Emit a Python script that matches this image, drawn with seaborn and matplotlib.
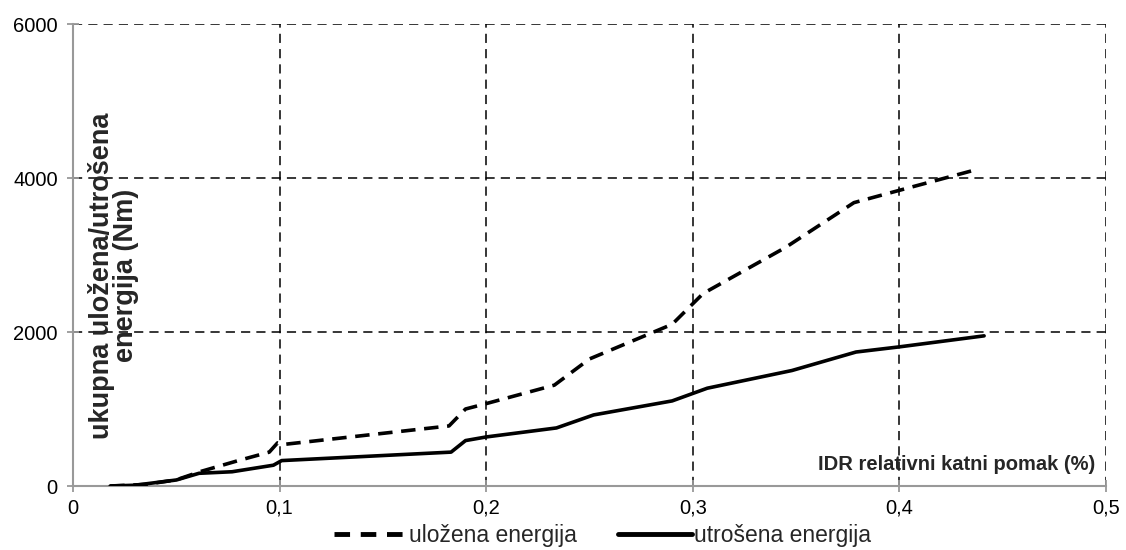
import matplotlib
matplotlib.use("Agg")
import matplotlib.pyplot as plt
import seaborn as sns
import pandas as pd
from matplotlib.ticker import FuncFormatter, MultipleLocator
from matplotlib.lines import Line2D

sns.set_theme(style="white")
plt.rcParams['font.family'] = ['Liberation Sans', 'DejaVu Sans']

idr_ulozena = [0.018, 0.035, 0.05, 0.062, 0.08, 0.095, 0.099, 0.102, 0.182, 0.19, 0.2, 0.233, 0.25, 0.29, 0.305, 0.345, 0.378, 0.4, 0.436]
e_ulozena = [0, 20, 80, 190, 330, 440, 560, 540, 780, 1000, 1070, 1310, 1650, 2100, 2500, 3100, 3680, 3840, 4100]
idr_utrosena = [0.018, 0.03, 0.05, 0.061, 0.077, 0.097, 0.101, 0.183, 0.19, 0.2, 0.234, 0.252, 0.29, 0.307, 0.348, 0.379, 0.4, 0.441]
e_utrosena = [0, 10, 78, 165, 185, 270, 330, 440, 590, 637, 754, 923, 1105, 1270, 1500, 1740, 1807, 1950]

label_ul = "uložena energija"
label_ut = "utrošena energija"

df = pd.concat([
    pd.DataFrame({"idr": idr_ulozena, "e": e_ulozena, "serija": label_ul}),
    pd.DataFrame({"idr": idr_utrosena, "e": e_utrosena, "serija": label_ut}),
])

fig = plt.figure(figsize=(11.26, 5.5), dpi=100)
ax = fig.add_axes([73/1126, 1-486/550, (1106-73)/1126, (486-24)/550])

sns.lineplot(data=df, x="idr", y="e", style="serija", hue="serija",
             palette={label_ul: "black", label_ut: "black"},
             dashes={label_ul: (4, 2.4), label_ut: ""},
             linewidth=2.6, sort=False, estimator=None, ax=ax, legend=False)

ax.set_xlim(0, 0.5)
ax.set_ylim(0, 6000)
ax.xaxis.set_major_locator(MultipleLocator(0.1))
ax.yaxis.set_major_locator(MultipleLocator(2000))
ax.xaxis.set_major_formatter(FuncFormatter(lambda v, p: "0" if abs(v) < 1e-9 else f"{v:.1f}".replace(".", ",")))
ax.yaxis.set_major_formatter(FuncFormatter(lambda v, p: f"{v:.0f}"))

ax.grid(True, color="black", linestyle=(0, (6, 4)), linewidth=1.1)
ax.set_axisbelow(True)
for s in ["top", "right"]:
    ax.spines[s].set_visible(False)
for s in ["left", "bottom"]:
    ax.spines[s].set_color("#999999")
    ax.spines[s].set_linewidth(1.5)
    ax.spines[s].set_zorder(1)
ax.tick_params(axis="both", direction="inout", length=8, width=1.3, color="#999999",
               labelsize=14.5, labelcolor="black", bottom=True, left=True, pad=5)
ax.tick_params(axis="y", pad=7)
ax.set_xlabel("")
ax.set_ylabel("")

ax.text(0.039, 0.455, "ukupna uložena/utrošena\nenergija (Nm)", transform=ax.transAxes,
        rotation=90, ha="center", va="center", fontsize=19.5, fontweight="bold",
        multialignment="center", linespacing=0.88)
ax.text(0.99, 0.046, "IDR relativni katni pomak (%)", transform=ax.transAxes,
        ha="right", va="center", fontsize=14.5, fontweight="bold")

handles = [Line2D([], [], color="black", lw=3.5, linestyle=(0, (3.2, 2.2))),
           Line2D([], [], color="black", lw=3.5)]
fig.legend(handles, [label_ul, label_ut], loc="center", bbox_to_anchor=(0.535, 0.027),
           ncol=2, frameon=False, fontsize=16.5, handlelength=3.2, handletextpad=0.1,
           columnspacing=1.8, borderpad=0.1)

fig.savefig("out.png", dpi=100)
